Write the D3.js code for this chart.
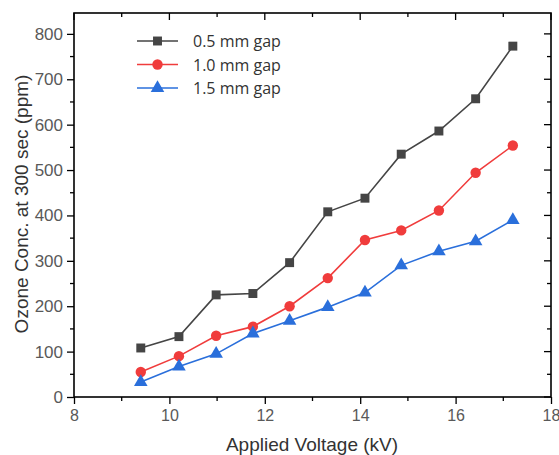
<!DOCTYPE html>
<html>
<head>
<meta charset="utf-8">
<script src="https://cdn.jsdelivr.net/npm/d3@7"></script>
<style>
	body { margin: 0; background: #fff; }
	svg text { font-family: "Liberation Sans", Arial, sans-serif; }
</style>
</head>
<body>
<div id="plot-ui"></div>
<script>
// applied voltage (kV)
let voltage = [9.4, 10.2, 10.98, 11.75, 12.52, 13.32, 14.1, 14.86, 15.65, 16.42, 17.2];

// ozone concentration at 300 sec (ppm)
let gap05 = [108, 133, 225, 228, 296, 408, 438, 535, 586, 657, 773];
let gap10 = [55, 90, 135, 155, 200, 262, 346, 367, 411, 494, 554];
let gap15 = [33, 67, 95, 140, 168, 198, 230, 290, 321, 343, 390];

let seriesNames = ["0.5 mm gap", "1.0 mm gap", "1.5 mm gap"];
let xTicks = [8, 10, 12, 14, 16, 18];
let yTicks = [0, 100, 200, 300, 400, 500, 600, 700, 800];

let margin = { top: 13, right: 8, bottom: 58, left: 74 };
let width = 559 - margin.left - margin.right,
	height = 455 - margin.top - margin.bottom;

let svg = d3.select('#plot-ui').append('svg')
	.attr('width', 559)
	.attr('height', 455)
	.append('g')
	.attr('transform', 'translate(' + margin.left + ',' + margin.top + ')');

let x = d3.scaleLinear().domain([8, 18]).range([0, width]);
let y = d3.scaleLinear().domain([0, 846]).range([height, 0]);

let colors = ["#454545", "#f03c3c", "#2a6fdb"];
let symbols = [d3.symbolSquare, d3.symbolCircle, d3.symbolTriangle];
let symSize = [80, 85, 80];

let series = [gap05, gap10, gap15].map(function(vals, i) {
	return { name: seriesNames[i], values: vals.map(function(v, j) { return { x: voltage[j], y: v }; }) };
});

// axes
let minorX = d3.range(8, 18.01, 1);
let minorY = d3.range(0, 846, 50);

let xAxis = d3.axisBottom(x).tickValues(xTicks).tickSize(7).tickPadding(6);
let yAxis = d3.axisLeft(y).tickValues(yTicks).tickSize(7).tickPadding(4);

let gx = svg.append('g')
	.attr('transform', 'translate(0,' + height + ')')
	.call(xAxis);
let gy = svg.append('g').call(yAxis);

[gx, gy].forEach(function(g) {
	g.select('.domain').remove();
	g.selectAll('.tick line').attr('stroke', '#000').attr('stroke-width', 1.3);
	g.selectAll('.tick text').attr('fill', '#595959');
});
gx.selectAll('.tick text').style('font-size', '16px');
gy.selectAll('.tick text').style('font-size', '17px');

// minor ticks
svg.append('g').selectAll('line.mx')
	.data(minorX.filter(function(d) { return d % 2 !== 0; }))
	.enter().append('line')
	.attr('x1', function(d) { return x(d); }).attr('x2', function(d) { return x(d); })
	.attr('y1', height).attr('y2', height + 4)
	.attr('stroke', '#000').attr('stroke-width', 1.3);

svg.append('g').selectAll('line.my')
	.data(minorY.filter(function(d) { return d % 100 !== 0; }))
	.enter().append('line')
	.attr('x1', -4).attr('x2', 0)
	.attr('y1', function(d) { return y(d); }).attr('y2', function(d) { return y(d); })
	.attr('stroke', '#000').attr('stroke-width', 1.3);

// top ticks (inward)
svg.append('g').selectAll('line')
	.data(minorX)
	.enter().append('line')
	.attr('x1', function(d) { return x(d); }).attr('x2', function(d) { return x(d); })
	.attr('y1', 0).attr('y2', function(d) { return d % 2 === 0 ? 7 : 4; })
	.attr('stroke', '#000').attr('stroke-width', 1.3);

// right ticks (inward)
svg.append('g').selectAll('line')
	.data(minorY)
	.enter().append('line')
	.attr('x1', width).attr('x2', function(d) { return d % 100 === 0 ? width - 7 : width - 4; })
	.attr('y1', function(d) { return y(d); }).attr('y2', function(d) { return y(d); })
	.attr('stroke', '#000').attr('stroke-width', 1.3);

// frame
svg.append('rect')
	.attr('width', width).attr('height', height)
	.attr('fill', 'none').attr('stroke', '#000').attr('stroke-width', 1.6);

// lines + markers
let line = d3.line()
	.x(function(d) { return x(d.x); })
	.y(function(d) { return y(d.y); });

series.forEach(function(s, i) {
	svg.append('path')
		.datum(s.values)
		.attr('d', line)
		.attr('fill', 'none')
		.attr('stroke', colors[i])
		.attr('stroke-width', 1.6);

	svg.selectAll('.pt' + i)
		.data(s.values)
		.enter().append('path')
		.attr('class', 'pt' + i)
		.attr('transform', function(d) { return 'translate(' + x(d.x) + ',' + y(d.y) + ')'; })
		.attr('d', d3.symbol().type(symbols[i]).size(symSize[i]))
		.attr('fill', colors[i]);
});

// legend
let legend = svg.append('g').attr('transform', 'translate(63,28)');
series.forEach(function(s, i) {
	let row = legend.append('g').attr('transform', 'translate(0,' + (i * 23.5) + ')');
	row.append('line').attr('x1', 0).attr('x2', 41).attr('y1', 0).attr('y2', 0)
		.attr('stroke', colors[i]).attr('stroke-width', 1.6);
	row.append('path')
		.attr('transform', 'translate(20.5,0)')
		.attr('d', d3.symbol().type(symbols[i]).size(symSize[i]))
		.attr('fill', colors[i]);
	row.append('text')
		.attr('x', 56).attr('y', 6)
		.attr('fill', '#333')
		.style('font-family', '"Open Sans", sans-serif')
		.style('font-size', '16px')
		.text(s.name);
});

// axis titles
svg.append('text')
	.attr('x', 238).attr('y', height + 54)
	.attr('text-anchor', 'middle')
	.attr('fill', '#333')
	.style('font-size', '19px')
	.text('Applied Voltage (kV)');

svg.append('text')
	.attr('transform', 'translate(' + (-46) + ',' + (height / 2 - 1) + ') rotate(-90)')
	.attr('text-anchor', 'middle')
	.attr('fill', '#333')
	.style('font-size', '19px')
	.text('Ozone Conc. at 300 sec (ppm)');
</script>
</body>
</html>
